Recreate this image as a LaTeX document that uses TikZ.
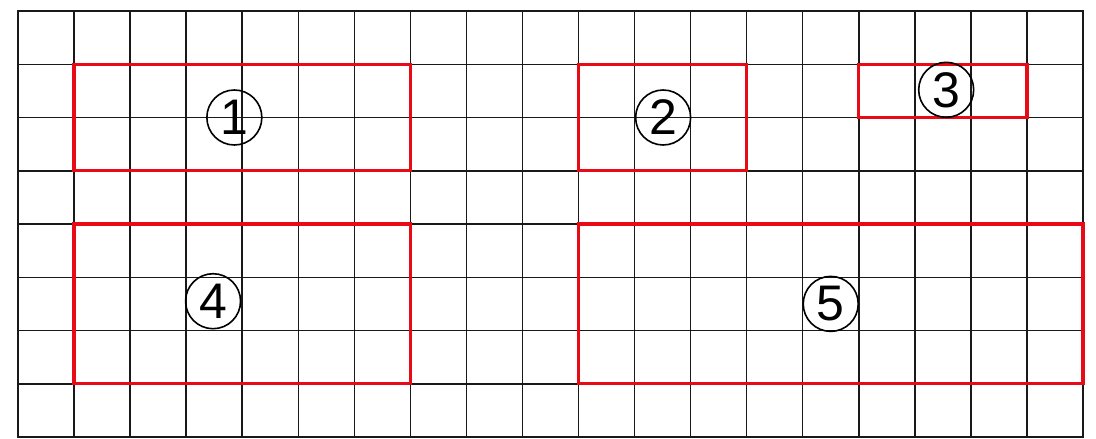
\documentclass[tikz,border=0pt]{standalone}
\usepackage{fontspec}
\setmainfont{Liberation Sans}
\begin{document}
\begin{tikzpicture}[
  gridline/.style={line width=1.5pt, draw=black!90, line cap=rect},
  redbox/.style={line width=3.4pt, draw={rgb,255:red,232;green,10;blue,20}, line join=miter},
  numlabel/.style={circle, draw=black, line width=1.6pt, minimum size=55pt, inner sep=0pt,
    font=\fontsize{50}{50}\selectfont}
]
\useasboundingbox[fill=white] (0,0) rectangle (1096pt,-439pt);
\begin{scope}[shift={(18pt,-11pt)}, x=56.05pt, y=-53.25pt]
  \foreach \i in {0,...,19} \draw[gridline] (\i,0) -- (\i,8);
  \foreach \j in {0,...,8} \draw[gridline] (0,\j) -- (19,\j);
  \draw[redbox] (1,1) rectangle (7,3);
  \draw[redbox] (10,1) rectangle (13,3);
  \draw[redbox] (15,1) rectangle (18,2);
  \draw[redbox] (1,4) rectangle (7,7);
  \draw[redbox] (10,4) rectangle (19,7);
  \node[numlabel] (n1) at (3.86,2.0) {1};
  \node[numlabel] (n2) at (11.51,2.0) {2};
  \node[numlabel] (n3) at (16.56,1.48) {3};
  \node[numlabel] (n4) at (3.48,5.45) {4};
  \node[numlabel] (n5) at (14.5,5.5) {5};
\end{scope}
\end{tikzpicture}
\end{document}
